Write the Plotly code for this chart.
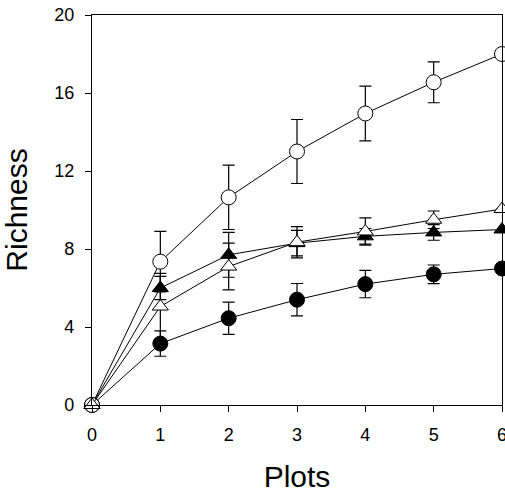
import plotly.graph_objects as go
import numpy as np

plots = [0, 1, 2, 3, 4, 5, 6]

open_circle = [0, 7.35, 10.65, 13.0, 14.95, 16.55, 18.0]
open_circle_err = [np.nan, 1.55, 1.65, 1.64, 1.4, 1.05, np.nan]

filled_tri = [0, 6.0, 7.7, 8.3, 8.65, 8.85, 9.0]
filled_tri_err = [np.nan, 0.6, 1.15, 0.65, 0.4, 0.4, np.nan]

open_tri = [0, 5.05, 7.1, 8.35, 8.9, 9.5, 10.05]
open_tri_err = [np.nan, 1.7, 1.2, 0.8, 0.7, 0.45, np.nan]

filled_circle = [0, 3.15, 4.45, 5.4, 6.2, 6.7, 7.0]
filled_circle_err = [np.nan, 0.65, 0.83, 0.83, 0.7, 0.48, np.nan]

yticks = [0, 4, 8, 12, 16, 20]
xticks = [0, 1, 2, 3, 4, 5, 6]

FONT = "Arial, Liberation Sans, sans-serif"

fig = go.Figure()

def add(y, err, symbol, fill):
    fig.add_trace(go.Scatter(
        x=plots, y=y, mode="lines+markers",
        line=dict(color="black", width=1),
        marker=dict(symbol=symbol, size=15 if "circle" in symbol else 14,
                    color=fill, line=dict(color="black", width=1)),
        error_y=dict(type="data", array=err, visible=True, color="black",
                     thickness=1.2, width=6),
        cliponaxis=False, showlegend=False,
    ))

add(filled_circle, filled_circle_err, "circle", "black")
add(filled_tri, filled_tri_err, "triangle-up", "black")
add(open_circle, open_circle_err, "circle", "white")
add(open_tri, open_tri_err, "triangle-up", "white")

axis_common = dict(showline=True, linecolor="black", linewidth=1.2, mirror=True,
                   ticks="outside", ticklen=6, tickcolor="black", tickwidth=1.2,
                   showgrid=False, zeroline=False, automargin=False,
                   ticklabelstandoff=7, ticklabeloverflow="allow",
                   tickfont=dict(family=FONT, size=18, color="black"))

fig.update_layout(
    width=505, height=495,
    margin=dict(l=92, r=3, t=15, b=90),
    plot_bgcolor="white", paper_bgcolor="white",
    xaxis=dict(range=[0, 6], tickvals=xticks, title=dict(text="Plots", standoff=22,
               font=dict(family=FONT, size=30, color="black")), **axis_common),
    yaxis=dict(range=[0, 20], tickvals=yticks, title=dict(text="Richness", standoff=27,
               font=dict(family=FONT, size=30, color="black")), **axis_common),
)

fig.write_html("out.html", config={"displayModeBar": False},
               post_script="document.body.style.margin='0';document.body.style.overflow='hidden';")
